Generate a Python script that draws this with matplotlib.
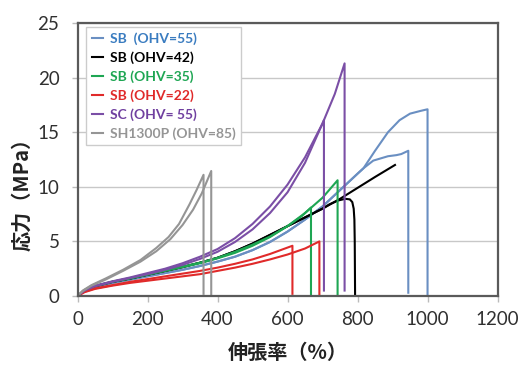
import matplotlib
matplotlib.use('Agg')
import matplotlib.pyplot as plt

plt.rcParams['font.family'] = ['Lato', 'Noto Sans CJK JP', 'DejaVu Sans']

# series labels and colours
labels = ['SB  (OHV=55)', 'SB (OHV=42)', 'SB (OHV=35)', 'SB (OHV=22)',
          'SC (OHV= 55)', 'SH1300P (OHV=85)']
line_colors = ['#6A8FC2', '#000000', '#1EA653', '#E02A2A', '#7B4FA6', '#959595']
text_colors = ['#3A7CC0', '#000000', '#1EA653', '#E02A2A', '#7040A0', '#959595']

# SB (OHV=55): two specimens
sb55_a_x = [0, 20, 50, 100, 150, 200, 250, 300, 350, 400, 450, 500, 550, 600, 650, 700, 750, 800, 817, 850, 887, 920, 950, 980, 1000, 1000]
sb55_a_y = [0, 0.45, 0.85, 1.2, 1.5, 1.8, 2.1, 2.4, 2.75, 3.15, 3.6, 4.2, 4.95, 5.9, 7.0, 8.2, 9.7, 11.2, 11.7, 13.3, 15.0, 16.1, 16.7, 16.95, 17.1, 0]
sb55_b_x = [0, 20, 50, 100, 150, 200, 250, 300, 350, 400, 450, 500, 550, 600, 650, 700, 750, 800, 817, 845, 887, 911, 925, 945, 945]
sb55_b_y = [0, 0.45, 0.85, 1.2, 1.5, 1.8, 2.1, 2.4, 2.75, 3.15, 3.6, 4.2, 4.95, 5.9, 7.0, 8.2, 9.7, 11.2, 11.7, 12.4, 12.8, 12.9, 13.0, 13.3, 0.3]

# SB (OHV=42)
sb42_a_x = [0, 20, 50, 100, 150, 200, 250, 300, 350, 400, 450, 500, 550, 600, 650, 700, 750, 800, 850, 907]
sb42_a_y = [0, 0.5, 0.9, 1.3, 1.6, 1.95, 2.3, 2.65, 3.05, 3.5, 4.1, 4.8, 5.6, 6.4, 7.2, 8.0, 8.9, 9.9, 10.9, 12.0]
sb42_b_x = [0, 20, 50, 100, 150, 200, 250, 300, 350, 400, 450, 500, 550, 600, 650, 700, 720, 745, 765, 778, 785, 789, 791, 792, 793]
sb42_b_y = [0, 0.5, 0.9, 1.3, 1.6, 1.95, 2.3, 2.65, 3.05, 3.5, 4.1, 4.8, 5.6, 6.4, 7.2, 8.0, 8.4, 8.75, 8.9, 8.85, 8.6, 8.0, 7.0, 5.0, 0]

# SB (OHV=35)
sb35_a_x = [0, 20, 50, 100, 150, 200, 250, 300, 350, 400, 450, 500, 550, 600, 650, 700, 743, 743]
sb35_a_y = [0, 0.5, 0.9, 1.3, 1.6, 1.95, 2.3, 2.65, 3.0, 3.45, 3.95, 4.6, 5.4, 6.4, 7.6, 9.0, 10.6, 0]
sb35_b_x = [0, 20, 50, 100, 150, 200, 250, 300, 350, 400, 450, 500, 550, 600, 640, 667, 667]
sb35_b_y = [0, 0.52, 0.92, 1.32, 1.63, 1.98, 2.33, 2.7, 3.05, 3.5, 4.05, 4.7, 5.45, 6.4, 7.3, 8.1, 0]

# SB (OHV=22)
sb22_a_x = [0, 20, 50, 100, 150, 200, 250, 300, 350, 400, 450, 500, 550, 600, 650, 691, 691]
sb22_a_y = [0, 0.35, 0.65, 0.95, 1.2, 1.4, 1.6, 1.8, 2.0, 2.3, 2.6, 2.95, 3.35, 3.8, 4.35, 5.0, 0.1]
sb22_b_x = [0, 20, 50, 100, 150, 200, 250, 300, 350, 400, 450, 500, 550, 614, 614]
sb22_b_y = [0, 0.4, 0.7, 1.0, 1.3, 1.55, 1.8, 2.05, 2.3, 2.6, 2.95, 3.35, 3.85, 4.6, 0.2]

# SC (OHV=55)
sc55_a_x = [0, 20, 50, 100, 150, 200, 250, 300, 350, 400, 450, 500, 550, 600, 650, 700, 735, 763, 763]
sc55_a_y = [0, 0.55, 0.95, 1.35, 1.7, 2.1, 2.5, 3.0, 3.6, 4.3, 5.3, 6.6, 8.2, 10.2, 12.7, 15.8, 18.5, 21.3, 0.5]
sc55_b_x = [0, 20, 50, 100, 150, 200, 250, 300, 350, 400, 450, 500, 550, 600, 650, 704, 704]
sc55_b_y = [0, 0.5, 0.9, 1.3, 1.65, 2.0, 2.4, 2.85, 3.4, 4.05, 4.95, 6.1, 7.6, 9.5, 12.2, 16.1, 0.5]

# SH1300P (OHV=85)
sh_a_x = [0, 15, 40, 80, 130, 180, 225, 260, 290, 320, 340, 360, 360]
sh_a_y = [0, 0.5, 1.0, 1.6, 2.4, 3.3, 4.4, 5.4, 6.6, 8.4, 9.7, 11.1, 0.2]
sh_b_x = [0, 15, 40, 80, 130, 180, 225, 265, 300, 330, 355, 382, 382]
sh_b_y = [0, 0.45, 0.95, 1.5, 2.3, 3.15, 4.1, 5.2, 6.5, 7.9, 9.4, 11.45, 0.15]

curves = [
    [(sb55_a_x, sb55_a_y), (sb55_b_x, sb55_b_y)],
    [(sb42_a_x, sb42_a_y), (sb42_b_x, sb42_b_y)],
    [(sb35_a_x, sb35_a_y), (sb35_b_x, sb35_b_y)],
    [(sb22_a_x, sb22_a_y), (sb22_b_x, sb22_b_y)],
    [(sc55_a_x, sc55_a_y), (sc55_b_x, sc55_b_y)],
    [(sh_a_x, sh_a_y), (sh_b_x, sh_b_y)],
]

x_ticks = [0, 200, 400, 600, 800, 1000, 1200]
y_ticks = [0, 5, 10, 15, 20, 25]

fig = plt.figure(figsize=(5.31, 3.65), dpi=100)
ax = fig.add_axes([0.146, 0.189, 0.791, 0.748])

handles = []
for specimens, color, lab in zip(curves, line_colors, labels):
    for i, (xs, ys) in enumerate(specimens):
        ln, = ax.plot(xs, ys, color=color, lw=1.5, solid_joinstyle='round')
        if i == 0:
            handles.append(ln)

ax.set_xlim(0, 1200)
ax.set_ylim(0, 25)
ax.set_xticks(x_ticks)
ax.set_yticks(y_ticks)
ax.yaxis.grid(True, color='#C8C8C8', lw=1)
ax.set_axisbelow(True)
for s in ax.spines.values():
    s.set_color('#5A5A5A')
    s.set_linewidth(1.6)
ax.tick_params(axis='both', labelsize=13.5, colors='#BBBBBB', labelcolor='#303030', length=4, width=1)
ax.tick_params(axis='x', pad=6.5)
ax.tick_params(axis='y', pad=9)

ax.set_xlabel('伸張率（%）', fontsize=14.5, fontweight='bold', family=['Noto Sans CJK JP'], color='#222222')
ax.set_ylabel('応力（MPa）', fontsize=14.5, fontweight='bold', family=['Noto Sans CJK JP'], color='#222222')
ax.xaxis.set_label_coords(0.5, -0.17)
ax.yaxis.set_label_coords(-0.108, 0.39)

leg = ax.legend(handles, labels, loc='upper left', bbox_to_anchor=(0.021, 0.985),
                borderaxespad=0, handlelength=0.8, handletextpad=0.5, labelspacing=0.45,
                borderpad=0.4, fancybox=False, framealpha=1, edgecolor='#CCCCCC',
                prop={'weight': 'bold', 'size': 10})
for txt, c in zip(leg.get_texts(), text_colors):
    txt.set_color(c)

fig.savefig('out.png', dpi=100)
